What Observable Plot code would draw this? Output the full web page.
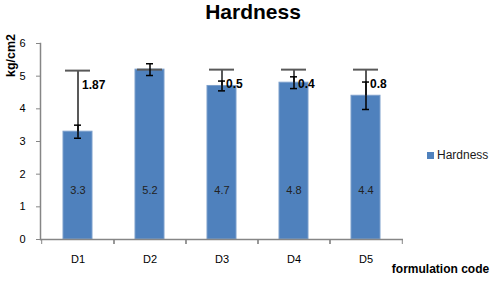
<!DOCTYPE html>
<html>
<head>
<meta charset="utf-8">
<script src="https://cdn.jsdelivr.net/npm/d3@7"></script>
<script src="https://cdn.jsdelivr.net/npm/@observablehq/plot@0.6"></script>
<style>
  html, body { margin: 0; padding: 0; background: #fff; }
  #wrap { position: relative; width: 496px; height: 281px; font-family: "Liberation Sans", Arial, sans-serif; }
  #title { position: absolute; left: 0; width: 506px; top: 0; text-align: center; font-weight: bold; font-size: 21px; line-height: 24px; color: #000; }
  #legend { position: absolute; left: 427px; top: 148px; font-size: 12px; color: #1a1a1a; display: flex; align-items: center; }
  #legend .sw { width: 7px; height: 7px; background: #4F81BD; margin-right: 3px; }
  #chart { position: absolute; left: 0; top: 0; }
</style>
</head>
<body>
<div id="wrap">
  <div id="chart"></div>
  <div id="title">Hardness</div>
  <div id="legend"><span class="sw"></span><span id="legendText"></span></div>
</div>
<script>
const categories = ["D1", "D2", "D3", "D4", "D5"];
const hardness = [3.3, 5.2, 4.7, 4.8, 4.4];
const sdSmall = [0.2, 0.18, 0.15, 0.18, 0.42];
const plusError = [1.87, 0, 0.5, 0.4, 0.8];
const yTicks = [0, 1, 2, 3, 4, 5, 6];
const seriesName = "Hardness";
const yLabel = "kg/cm2";
const xLabel = "formulation code";

document.getElementById("legendText").textContent = seriesName;

const data = categories.map((c, i) => ({c, v: hardness[i], sd: sdSmall[i], pe: plusError[i]}));

const W = 496, H = 281, mL = 40, mR = 93, mT = 43, mB = 42;
const halfStep = (W - mL - mR) / categories.length / 2;
const grey = "#868686";
const errGrey = "#595959";

const chart = Plot.plot({
  width: W,
  height: H,
  marginTop: mT,
  marginBottom: mB,
  marginLeft: mL,
  marginRight: mR,
  style: {fontFamily: "'Liberation Sans', Arial, sans-serif", fontSize: "11px", color: "#000", background: "transparent"},
  x: {domain: categories, paddingInner: 0.6, paddingOuter: 0.3, label: null},
  y: {domain: [0, 6], label: null},
  marks: [
    Plot.barY(data, {x: "c", y: "v", fill: "#4F81BD", stroke: "#7C9FCC", strokeWidth: 1}),
    Plot.text(data, {x: "c", y: () => 1.5, text: d => d.v.toFixed(1), fontSize: 11, fill: "#222"}),
    // grey plus error bars
    Plot.ruleX(data, {x: "c", y1: "v", y2: d => d.v + d.pe, stroke: errGrey, strokeWidth: 2}),
    Plot.tickY(data, {x: "c", y: d => d.v + d.pe, stroke: errGrey, strokeWidth: 2, insetLeft: 2, insetRight: 2}),
    // small black error bars
    Plot.ruleX(data, {x: "c", y1: d => d.v - d.sd, y2: d => d.v + d.sd, stroke: "#000", strokeWidth: 1.5}),
    Plot.tickY(data, {x: "c", y: d => d.v - d.sd, stroke: "#000", strokeWidth: 1.5, insetLeft: 11, insetRight: 11}),
    Plot.tickY(data, {x: "c", y: d => d.v + d.sd, stroke: "#000", strokeWidth: 1.5, insetLeft: 11, insetRight: 11}),
    Plot.text(data.filter(d => d.pe > 0), {x: "c", y: d => d.v + d.pe - 0.45, text: d => String(d.pe), textAnchor: "start", dx: 4, fontWeight: "bold", fontSize: 12, fill: "#000"}),
    // axes
    Plot.ruleY([0], {stroke: grey, strokeWidth: 1.5}),
    Plot.frame({anchor: "left", stroke: grey, strokeWidth: 1.5}),
    Plot.axisY({ticks: yTicks, tickSize: 4, tickPadding: 11, stroke: grey, fill: "#000", fontSize: 11, label: null, tickFormat: d => String(d)}),
    Plot.axisX({tickSize: 0, tickPadding: 16, fill: "#000", fontSize: 11, label: null}),
    Plot.axisX({tickSize: 5, dx: halfStep, stroke: grey, tickFormat: () => "", label: null}),
    Plot.axisX({tickSize: 5, dx: -halfStep, stroke: grey, tickFormat: () => "", label: null}),
    Plot.text([yLabel], {frameAnchor: "top-left", dx: -30, dy: 12, rotate: -90, textAnchor: "middle", lineAnchor: "middle", fontWeight: "bold", fontSize: 12.5, fill: "#000"}),
    Plot.text([xLabel], {frameAnchor: "bottom-right", dx: 37, dy: 30, textAnchor: "middle", lineAnchor: "middle", fontWeight: "bold", fontSize: 12, fill: "#000"})
  ]
});
document.getElementById("chart").appendChild(chart);
</script>
</body>
</html>
